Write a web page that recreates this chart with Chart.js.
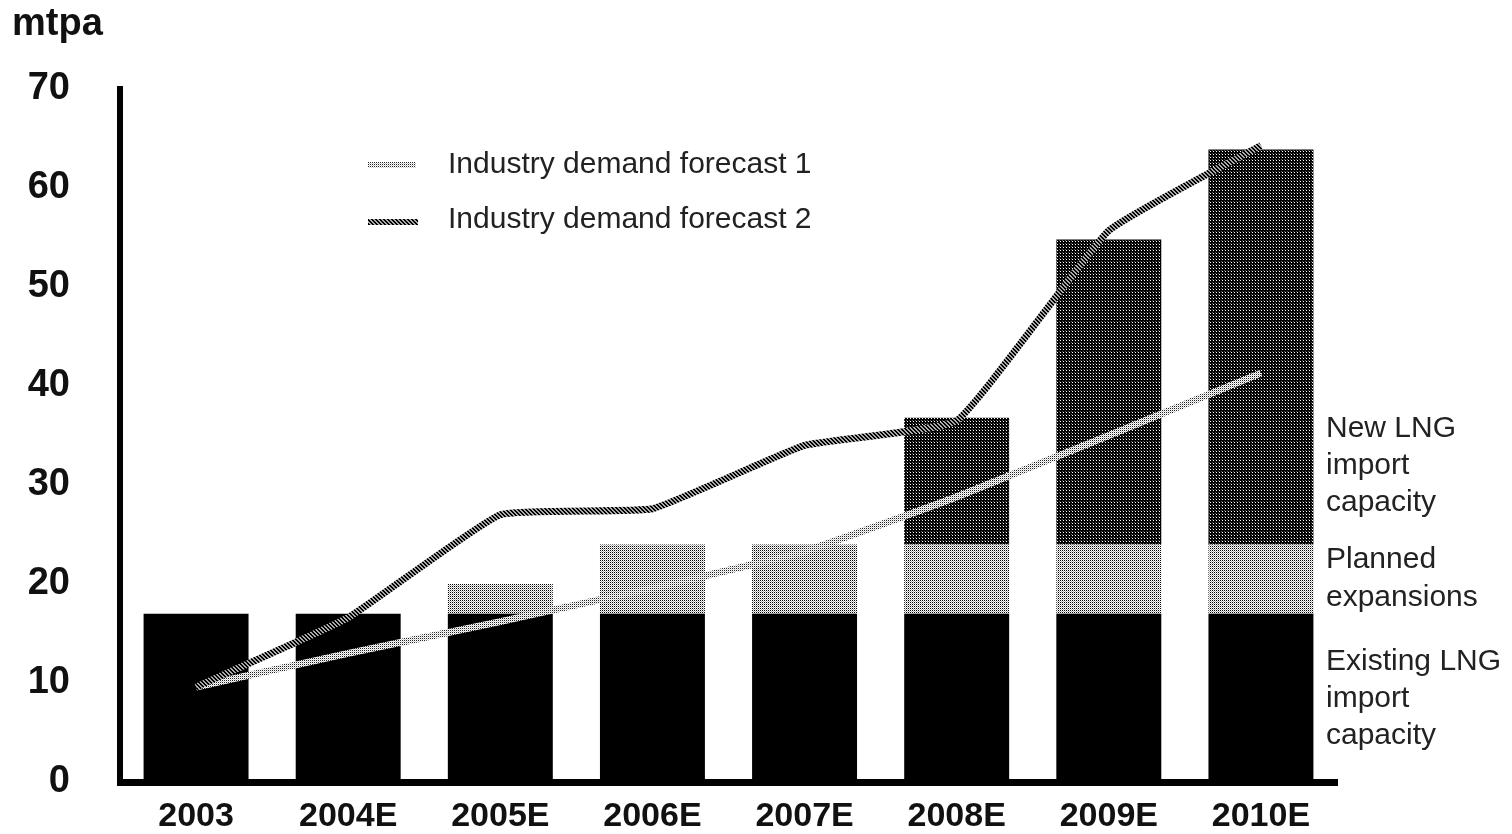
<!DOCTYPE html>
<html>
<head>
<meta charset="utf-8">
<title>LNG import capacity vs demand</title>
<script src="https://cdn.jsdelivr.net/npm/chart.js@4.4.0/dist/chart.umd.min.js"></script>
<style>
  body { margin: 0; background: #fff; }
  #wrap { width: 1512px; height: 834px; }
</style>
</head>
<body>
<div id="wrap"><canvas id="lngChart" width="1512" height="834"></canvas></div>
<script>
// Capacity and demand, mtpa
const years = ['2003', '2004E', '2005E', '2006E', '2007E', '2008E', '2009E', '2010E'];
const existingCapacity = [17, 17, 17, 17, 17, 17, 17, 17];
const plannedExpansions = [null, null, 3, 7, 7, 7, 7, 7];
const newCapacity = [null, null, null, null, null, 12.8, 30.8, 39.9];
const demandForecast1 = [9.6, 13, 16.2, 19.6, 23.3, 28.8, 35, 41.3];
const demandForecast2 = [9.6, 16.6, 27, 27.6, 34, 36.5, 55.7, 64.3];
const yTicks = [0, 10, 20, 30, 40, 50, 60, 70];

const seriesNotes = [
    { lines: ['New LNG', 'import', 'capacity'], baselines: [437, 474, 511] },
    { lines: ['Planned', 'expansions'], baselines: [568, 606] },
    { lines: ['Existing LNG', 'import', 'capacity'], baselines: [670, 707, 744] }
];

const FONT = '"Liberation Sans", Arial, Helvetica, sans-serif';

// small repeating pixel tiles used as print-style screens
function tile(size, bg, cells) {
    const c = document.createElement('canvas');
    c.width = c.height = size;
    const g = c.getContext('2d');
    g.fillStyle = bg;
    g.fillRect(0, 0, size, size);
    cells.forEach(function (p) {
        g.fillStyle = p[2];
        g.fillRect(p[0], p[1], 1, 1);
    });
    return g.createPattern(c, 'repeat');
}

const plannedFill = tile(2, '#fff', [[0, 0, '#000'], [1, 1, '#aaa']]);
const newFill = tile(3, '#000', [[1, 1, '#fff'], [0, 0, '#555']]);
const forecast1Stroke = tile(2, '#fff', [[0, 0, '#222'], [1, 1, '#ccc']]);
const forecast2Stroke = tile(4, '#aaa', [
    [0, 0, '#000'], [1, 0, '#000'], [1, 1, '#000'], [2, 1, '#000'],
    [2, 2, '#000'], [3, 2, '#000'], [3, 3, '#000'], [0, 3, '#000']
]);

// legend, unit label and the notes beside the last bar
const annotations = {
    id: 'annotations',
    afterDraw(chart) {
        const ctx = chart.ctx;
        ctx.save();
        ctx.fillStyle = '#111';
        ctx.font = 'bold 38px ' + FONT;
        ctx.textBaseline = 'alphabetic';
        ctx.textAlign = 'left';
        ctx.fillText('mtpa', 12, 35);

        // legend
        ctx.lineWidth = 6;
        ctx.strokeStyle = forecast1Stroke;
        ctx.beginPath(); ctx.moveTo(368, 165); ctx.lineTo(416, 165); ctx.stroke();
        ctx.strokeStyle = forecast2Stroke;
        ctx.beginPath(); ctx.moveTo(368, 222); ctx.lineTo(418, 222); ctx.stroke();
        ctx.fillStyle = '#222';
        ctx.font = '30px ' + FONT;
        ctx.fillText('Industry demand forecast 1', 448, 173);
        ctx.fillText('Industry demand forecast 2', 448, 228);

        seriesNotes.forEach(function (n) {
            n.lines.forEach(function (t, i) {
                ctx.fillText(t, 1326, n.baselines[i]);
            });
        });
        ctx.restore();
    }
};

const ctx = document.getElementById('lngChart').getContext('2d');
new Chart(ctx, {
    type: 'bar',
    data: {
        labels: years,
        datasets: [
            {
                type: 'line',
                label: 'Industry demand forecast 2',
                data: demandForecast2,
                stack: 'f2',
                order: 0,
                borderColor: forecast2Stroke,
                borderWidth: 7,
                tension: 0.12,
                pointRadius: 0,
                fill: false
            },
            {
                type: 'line',
                label: 'Industry demand forecast 1',
                data: demandForecast1,
                stack: 'f1',
                order: 0,
                borderColor: forecast1Stroke,
                borderWidth: 7,
                tension: 0.12,
                pointRadius: 0,
                fill: false
            },
            {
                label: 'Existing LNG import capacity',
                data: existingCapacity,
                stack: 'cap',
                order: 1,
                backgroundColor: '#000',
                borderWidth: 0
            },
            {
                label: 'Planned expansions',
                data: plannedExpansions,
                stack: 'cap',
                order: 1,
                backgroundColor: plannedFill,
                borderWidth: 0
            },
            {
                label: 'New LNG import capacity',
                data: newCapacity,
                stack: 'cap',
                order: 1,
                backgroundColor: newFill,
                borderWidth: 0
            }
        ]
    },
    options: {
        responsive: false,
        animation: false,
        layout: { padding: { top: 89, right: 175, left: 0, bottom: 0 } },
        datasets: {
            bar: { categoryPercentage: 1, barPercentage: 0.69 }
        },
        plugins: {
            legend: { display: false },
            tooltip: { enabled: false }
        },
        scales: {
            x: {
                stacked: true,
                grid: { display: false, drawTicks: false },
                border: { display: true, color: '#000', width: 7, z: 1 },
                ticks: {
                    color: '#111',
                    padding: 14,
                    maxRotation: 0,
                    font: { family: FONT, size: 34, weight: 'bold' }
                },
                afterFit(scale) {
                    scale.height = 52;
                    scale.paddingLeft = 0;
                    scale.paddingRight = 0;
                }
            },
            y: {
                stacked: true,
                min: 0,
                max: 70,
                grid: { display: false, drawTicks: false },
                border: { display: true, color: '#000', width: 6, z: 1 },
                afterBuildTicks(scale) {
                    scale.ticks = yTicks.map(function (v) { return { value: v }; });
                },
                ticks: {
                    color: '#111',
                    padding: 50,
                    font: { family: FONT, size: 38, weight: 'bold' }
                },
                afterFit(scale) {
                    scale.width = 120;
                    scale.paddingTop = 0;
                    scale.paddingBottom = 0;
                }
            }
        }
    },
    plugins: [annotations]
});
</script>
</body>
</html>
